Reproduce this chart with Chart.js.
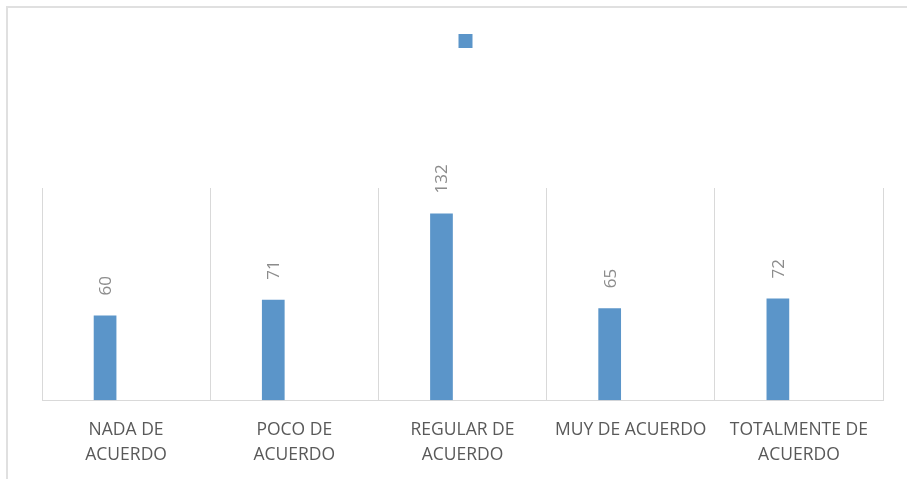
<!DOCTYPE html>
<html lang="es">
<head>
  <meta charset="UTF-8" />
  <title>Grado de acuerdo</title>
  <script src="https://cdn.jsdelivr.net/npm/chart.js"></script>
  <style>
    html, body {
      margin: 0;
      padding: 0;
      background: #ffffff;
      overflow: hidden;
    }
    .wrap {
      position: relative;
      width: 907px;
      height: 479px;
    }
    .frame {
      position: absolute;
      left: 6px;
      top: 6px;
      width: 1000px;
      height: 1000px;
      border-top: 2px solid #e0e0e0;
      border-left: 2px solid #e0e0e0;
      pointer-events: none;
    }
  </style>
</head>
<body>
  <div class="wrap">
    <canvas id="acuerdoChart" width="907" height="479"></canvas>
    <div class="frame"></div>
  </div>

  <script>
    const categories = [
      ["NADA DE", "ACUERDO"],
      ["POCO DE", "ACUERDO"],
      ["REGULAR DE", "ACUERDO"],
      "MUY DE ACUERDO",
      ["TOTALMENTE DE", "ACUERDO"]
    ];
    const responses = [60, 71, 132, 65, 72];
    const emptySeries = [null, null, null, null, null];

    const barColor = "#5b95c9";
    const textGray = "#595959";

    // value labels, rotated, just above each bar
    const barLabels = {
      id: "barLabels",
      afterDatasetsDraw(chart) {
        const ctx = chart.ctx;
        const meta = chart.getDatasetMeta(0);
        ctx.save();
        ctx.fillStyle = "#8c8c8c";
        ctx.font = "17px 'Open Sans'";
        ctx.textAlign = "left";
        ctx.textBaseline = "middle";
        meta.data.forEach((bar, i) => {
          ctx.save();
          ctx.translate(bar.x + 1, bar.y - 20);
          ctx.rotate(-Math.PI / 2);
          ctx.fillText(String(responses[i]), 0, 0);
          ctx.restore();
        });
        ctx.restore();
      }
    };

    new Chart(document.getElementById("acuerdoChart").getContext("2d"), {
      type: "bar",
      data: {
        labels: categories,
        datasets: [
          {
            label: "",
            data: responses,
            backgroundColor: barColor,
            categoryPercentage: 0.5,
            barPercentage: 0.54
          },
          {
            label: "hidden",
            data: emptySeries,
            backgroundColor: "rgba(0,0,0,0)",
            categoryPercentage: 0.5,
            barPercentage: 0.54
          }
        ]
      },
      options: {
        responsive: false,
        animation: false,
        events: [],
        layout: {
          padding: { left: 42, right: 24, top: 24, bottom: -6 }
        },
        plugins: {
          legend: {
            display: true,
            position: "top",
            weight: 3000,
            rtl: true,
            labels: {
              boxWidth: 14,
              boxHeight: 14,
              padding: 10,
              font: { size: 12, family: "'Open Sans'" },
              filter: (item) => item.datasetIndex === 0
            }
          },
          // empty block that keeps the plot area low, like the original
          subtitle: {
            display: true,
            text: "",
            font: { size: 12, lineHeight: 1 },
            padding: { top: 0, bottom: 118 }
          },
          tooltip: { enabled: false }
        },
        scales: {
          x: {
            grid: {
              display: true,
              offset: true,
              color: "#d9d9d9",
              drawTicks: false
            },
            border: { display: true, color: "#d9d9d9", width: 1 },
            ticks: {
              color: textGray,
              font: { size: 17.5, family: "'Open Sans'", lineHeight: 1.39 },
              padding: 18,
              maxRotation: 0,
              minRotation: 0,
              autoSkip: false
            }
          },
          y: {
            display: false,
            min: 0,
            max: 150
          }
        }
      },
      plugins: [barLabels]
    });
  </script>
</body>
</html>
